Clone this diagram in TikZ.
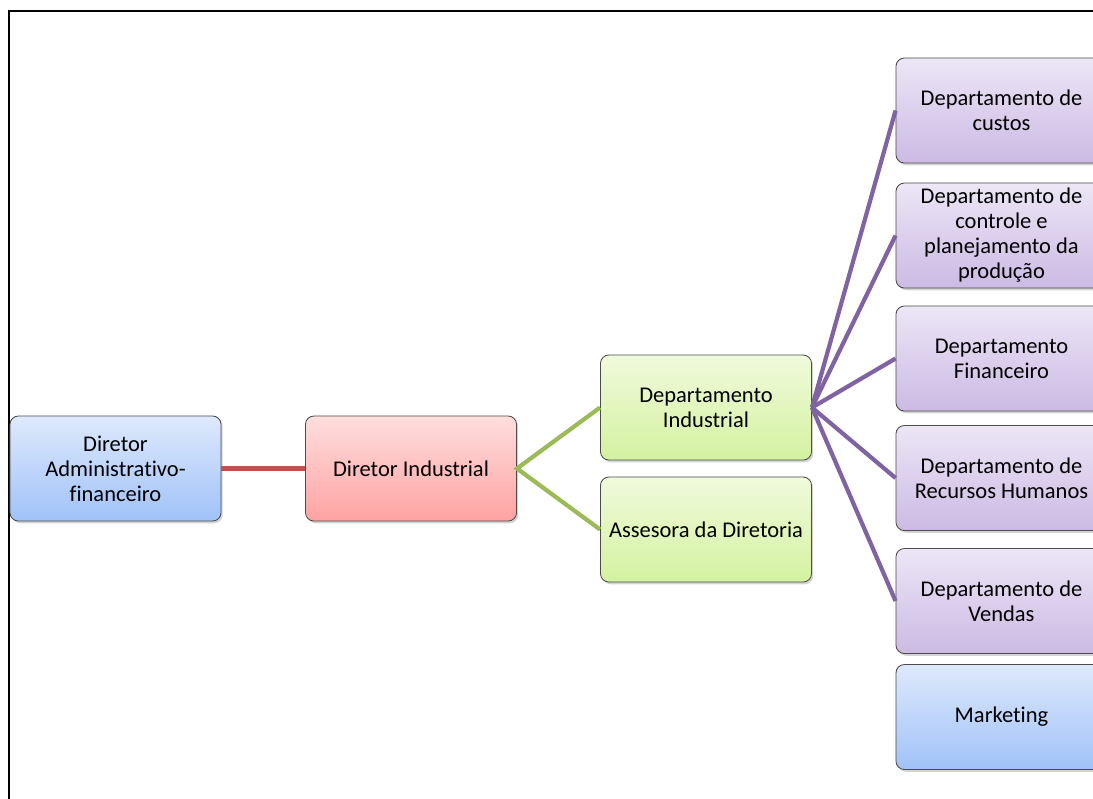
\documentclass[tikz,border=0pt]{standalone}
\usepackage{fontspec}
\setmainfont[Ligatures=NoCommon]{Carlito}
\usetikzlibrary{shadows}
\definecolor{linhaVermelha}{HTML}{C0504D}
\definecolor{linhaVerde}{HTML}{9BBB59}
\definecolor{linhaRoxa}{HTML}{8064A2}
\tikzset{
  caixa/.style={draw=black!70, line width=0.6pt, rounded corners=6pt,
    minimum width=5.275cm, minimum height=2.625cm, align=center,
    font=\fontsize{16}{17.8}\selectfont,
    drop shadow={shadow xshift=1.2pt, shadow yshift=-1.6pt, opacity=0.35}},
  azul/.style={caixa, top color={rgb,255:red,222;green,233;blue,252}, bottom color={rgb,255:red,160;green,194;blue,248}},
  rosa/.style={caixa, top color={rgb,255:red,255;green,222;blue,222}, bottom color={rgb,255:red,255;green,162;blue,162}},
  verde/.style={caixa, top color={rgb,255:red,240;green,250;blue,220}, bottom color={rgb,255:red,212;green,242;blue,160}},
  roxo/.style={caixa, top color={rgb,255:red,236;green,230;blue,246}, bottom color={rgb,255:red,204;green,186;blue,228}},
  ligacao/.style={line width=3pt}
}
\begin{document}
\begin{tikzpicture}[x=0.025cm, y=-0.025cm]
    \useasboundingbox (0,0) rectangle (1093,798);
    % 外框
    \draw [line width=1.8pt] (9,810) -- (9,11) -- (1110,11);

    % 各个部门
    \node [azul] (dirAdm) at (115.5,468.5) {Diretor\\Administrativo-\\financeiro};
    \node [rosa] (dirInd) at (411,468.5) {Diretor Industrial};
    \node [verde] (depInd) at (706,407.5) {Departamento\\Industrial};
    \node [verde] (assessoria) at (706,529.5) {Assesora da Diretoria};
    \node [roxo] (depCustos) at (1001.5,110.5) {Departamento de\\custos};
    \node [roxo] (depPCP) at (1001.5,235.5) {Departamento de\\controle e\\planejamento da\\produção};
    \node [roxo] (depFin) at (1001.5,358.5) {Departamento\\Financeiro};
    \node [roxo] (depRH) at (1001.5,478) {Departamento de\\Recursos Humanos};
    \node [roxo] (depVendas) at (1001.5,601) {Departamento de\\Vendas};
    \node [azul] (marketing) at (1001.5,717) {Marketing};

    % 连线
    \draw [ligacao, linhaVermelha] (dirAdm.east) -- (dirInd.west);
    \draw [ligacao, linhaVerde] (depInd.west) -- (dirInd.east) -- (assessoria.west);
    \foreach \d in {depCustos, depPCP, depFin, depRH, depVendas}
        \draw [ligacao, linhaRoxa] (depInd.east) -- (\d.west);
\end{tikzpicture}
\end{document}
